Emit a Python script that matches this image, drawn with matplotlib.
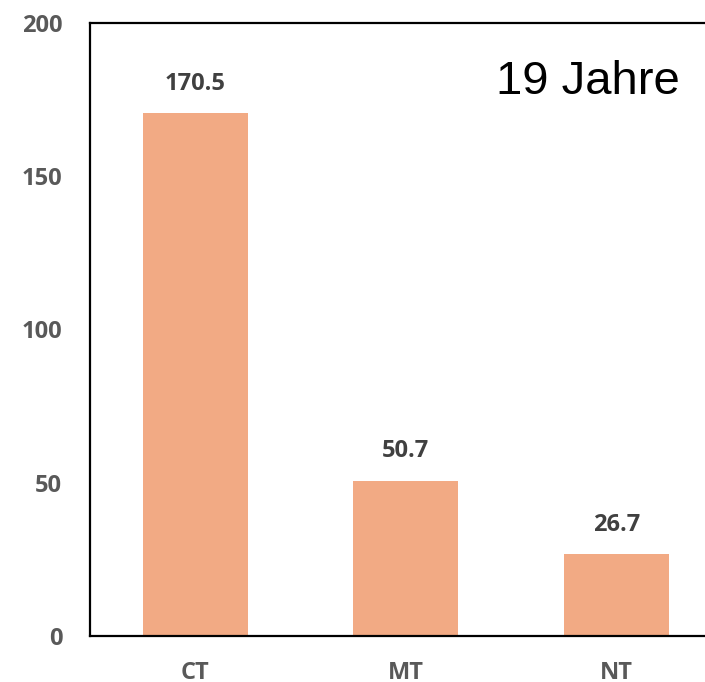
import matplotlib
matplotlib.use("Agg")
import matplotlib.pyplot as plt

categories = ["CT", "MT", "NT"]
values = [170.5, 50.7, 26.7]
yticks = [0, 50, 100, 150, 200]

fig = plt.figure(figsize=(7.05, 6.82), dpi=100)
ax = fig.add_axes([90 / 705, 1 - 636 / 682, 631.5 / 705, 613 / 682])

x = range(len(categories))
bars = ax.bar(x, values, width=0.5, color="#F2AA84")

for b, v in zip(bars, values):
    ax.annotate(f"{v}", (b.get_x() + b.get_width() / 2, v),
                xytext=(0, 21), textcoords="offset points",
                ha="center", va="center", fontsize=17, fontweight="bold",
                color="#404040", family="Open Sans")

ax.set_xlim(-0.5, 2.5)
ax.set_ylim(0, 200)
ax.set_yticks(yticks)
ax.set_xticks(list(x))
ax.set_xticklabels(categories)
ax.tick_params(length=0)
ax.tick_params(axis="y", pad=20)
ax.tick_params(axis="x", pad=18)
for lab in ax.get_xticklabels() + ax.get_yticklabels():
    lab.set_fontsize(17)
    lab.set_fontweight("bold")
    lab.set_color("#595959")
    lab.set_family("Open Sans")

for s in ["left", "bottom", "top"]:
    ax.spines[s].set_linewidth(1.6)
    ax.spines[s].set_color("black")
ax.spines["right"].set_visible(False)

fig.text(680 / 705, 1 - 82 / 682, "19 Jahre", ha="right", va="center",
         fontsize=34, family="Liberation Sans")

fig.savefig("out.png", dpi=100)
